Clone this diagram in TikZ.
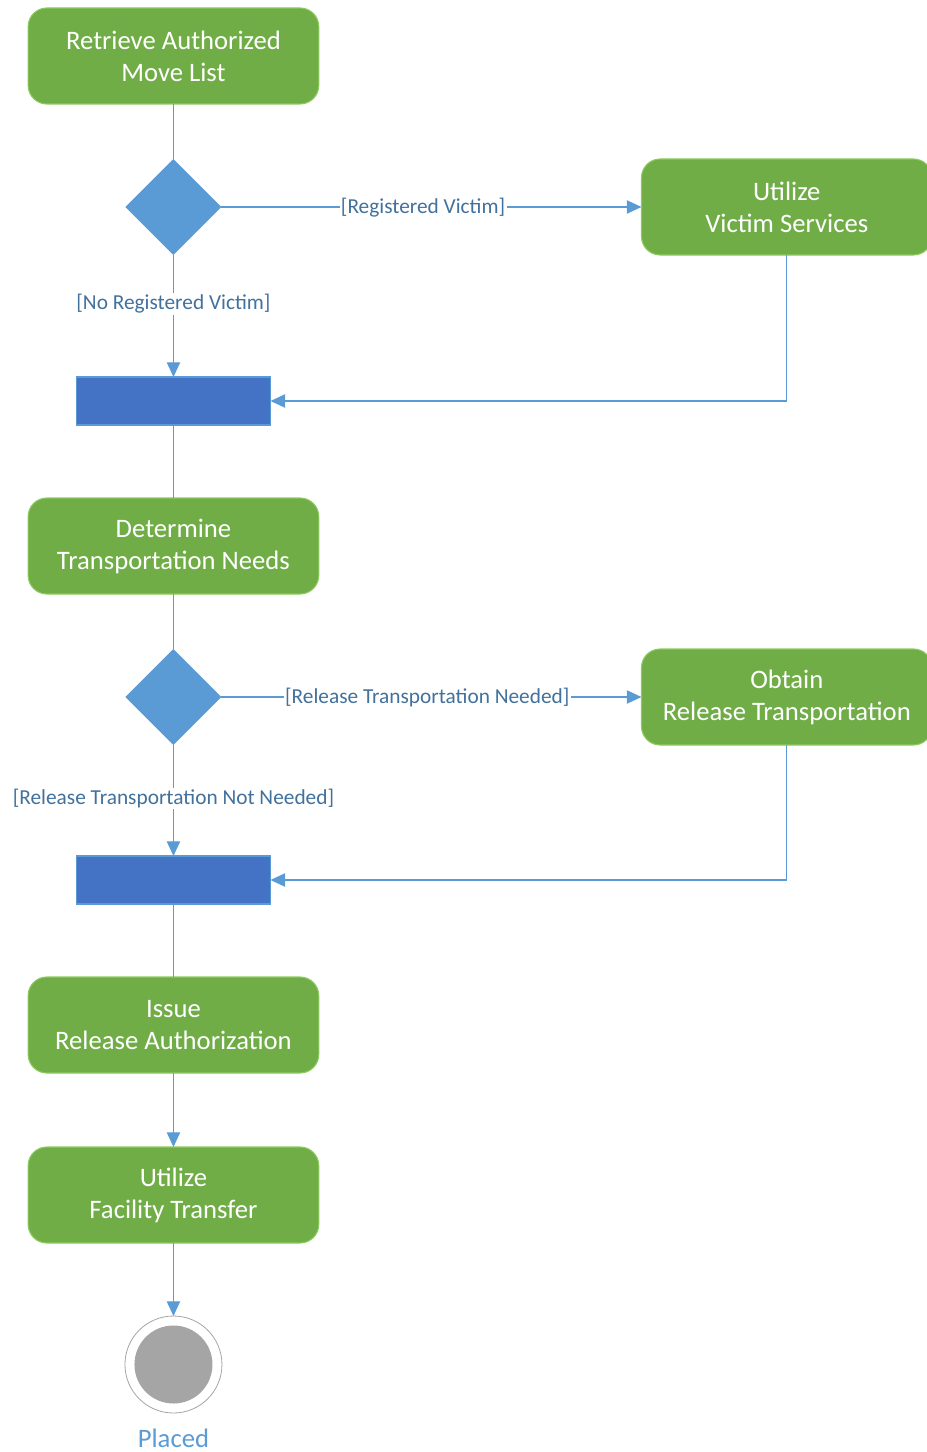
\documentclass[tikz,border=0pt]{standalone}
\usepackage{fontspec}
\setmainfont{Carlito}
\usepackage{tikz}
\usetikzlibrary{shapes.geometric, arrows.meta, positioning}
\definecolor{actgreen}{HTML}{70AD47}
\definecolor{actborder}{HTML}{8CCB5E}
\definecolor{flowblue}{HTML}{5B9BD5}
\definecolor{barblue}{HTML}{4472C4}
\definecolor{guardblue}{HTML}{41719C}
\definecolor{endgray}{HTML}{A5A5A5}
\begin{document}
\begin{tikzpicture}[
    action/.style={rectangle, draw=actborder, fill=actgreen, line width=0.8pt, outer sep=0pt, text=white, align=center, rounded corners=14pt, minimum width=218pt, minimum height=72pt, font=\fontsize{20}{24}\selectfont},
    decision/.style={diamond, fill=flowblue, minimum width=72pt, minimum height=72pt, inner sep=0pt, outer sep=0pt},
    joinbar/.style={rectangle, draw=flowblue, fill=barblue, line width=0.8pt, outer sep=0pt, minimum width=145.5pt, minimum height=36pt, inner sep=0pt},
    final/.style={circle, draw=endgray, fill=white, line width=0.6pt, outer sep=0pt, minimum size=72.75pt, inner sep=0pt, path picture={\fill[endgray] (path picture bounding box.center) circle (29.25pt);}},
    flow/.style={draw=flowblue, line width=0.9pt},
    arrow/.style={flow, -{Triangle[length=11pt, width=10pt]}},
    guard/.style={fill=white, text=guardblue, inner sep=1pt, font=\fontsize{16}{19}\selectfont}
]
\useasboundingbox (0,0) rectangle (695.25pt,-1089pt);
\node[action] (retrieve) at (130.1pt,-42pt) {Retrieve Authorized\\Move List};
\node[decision, below=41.25pt of retrieve] (victimq) {};
\node[action, right=315pt of victimq] (victim) {Utilize\\Victim Services};
\node[joinbar, below=91.5pt of victimq] (join1) {};
\node[action, below=54.75pt of join1] (transport) {Determine\\Transportation Needs};
\node[decision, below=41.25pt of transport] (releaseq) {};
\node[action, right=315pt of releaseq] (obtain) {Obtain\\Release Transportation};
\node[joinbar, below=83.25pt of releaseq] (join2) {};
\node[action, below=54.75pt of join2] (issue) {Issue\\Release Authorization};
\node[action, below=55.5pt of issue] (transfer) {Utilize\\Facility Transfer};
\node[final, below=54.75pt of transfer] (placed) {};
\node[anchor=base, text=flowblue, font=\fontsize{20}{24}\selectfont] (placedtext) at ([yshift=-25.5pt]placed.south) {Placed};
\draw[flow] (retrieve) -- (victimq);
\draw[arrow] (victimq) -- node[guard, pos=0.48, yshift=-0.75pt] {[Registered Victim]} (victim);
\draw[arrow] (victimq) -- node[guard, pos=0.4] {[No Registered Victim]} (join1);
\draw[arrow] (victim.south) |- (join1.east);
\draw[flow] (join1) -- (transport);
\draw[flow] (transport) -- (releaseq);
\draw[arrow] (releaseq) -- node[guard, pos=0.49, yshift=-0.75pt] {[Release Transportation Needed]} (obtain);
\draw[arrow] (releaseq) -- node[guard, pos=0.48] {[Release Transportation Not Needed]} (join2);
\draw[arrow] (obtain.south) |- (join2.east);
\draw[flow] (join2) -- (issue);
\draw[arrow] (issue) -- (transfer);
\draw[arrow] (transfer) -- (placed);
\end{tikzpicture}
\end{document}
